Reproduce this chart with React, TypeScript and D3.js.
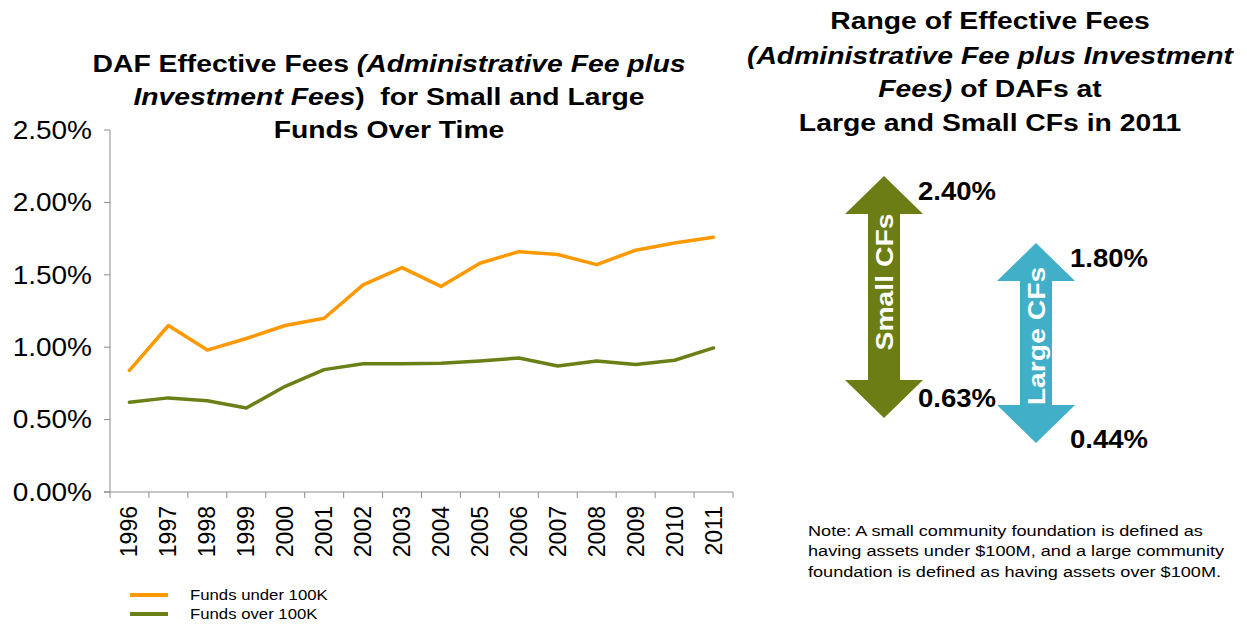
import { useEffect, useRef } from 'react'
import * as d3 from 'd3'

const years = ['1996', '1997', '1998', '1999', '2000', '2001', '2002', '2003', '2004', '2005', '2006', '2007', '2008', '2009', '2010', '2011']
const fundsUnder100K = [0.84, 1.15, 0.98, 1.06, 1.15, 1.2, 1.43, 1.55, 1.42, 1.58, 1.66, 1.64, 1.57, 1.67, 1.72, 1.76]
const fundsOver100K = [0.62, 0.65, 0.63, 0.58, 0.73, 0.845, 0.885, 0.885, 0.89, 0.905, 0.925, 0.87, 0.905, 0.88, 0.91, 0.995]
const yTicks = [0, 0.5, 1, 1.5, 2, 2.5]
const seriesNames = ['Funds under 100K', 'Funds over 100K']
const seriesColors = ['#ff9900', '#6b7f17']

const rangeGroups = ['Small CFs', 'Large CFs']
const rangeHigh = ['2.40%', '1.80%']
const rangeLow = ['0.63%', '0.44%']
const rangeColors = ['#6b7d14', '#41afc7']

const W = 1247
const H = 627
const FONT = "'Liberation Sans', Arial, sans-serif"
// the source font is wider than Liberation Sans, stretch text horizontally
const SX_TITLE = 1.18

export default function App() {
  const svgRef = useRef<SVGSVGElement>(null)

  useEffect(() => {
    document.body.style.margin = '0'
    if (!svgRef.current) return
    const svg = d3.select(svgRef.current)
    svg.selectAll('*').remove()
    svg.attr('font-family', FONT)

    // text placed at (x,y) and stretched by sx along its own direction
    const txt = (x: number, y: number, sx: number, rot = 0) =>
      svg.append('text')
        .attr('transform', `translate(${x},${y})${rot ? ` rotate(${rot})` : ''} scale(${sx},1)`)
        .attr('fill', '#000')

    // ---- left chart ----
    const left = 110, right = 733, top = 130, bottom = 492
    const x = d3.scaleBand().domain(years).range([left, right])
    const y = d3.scaleLinear().domain([0, 2.5]).range([bottom, top])

    const axisColor = '#8c8c8c'
    svg.append('line').attr('x1', left).attr('x2', left).attr('y1', top).attr('y2', bottom)
      .attr('stroke', axisColor).attr('stroke-width', 1)
    svg.append('line').attr('x1', left - 6).attr('x2', right).attr('y1', bottom).attr('y2', bottom)
      .attr('stroke', axisColor).attr('stroke-width', 1)

    yTicks.forEach(t => {
      svg.append('line').attr('x1', left - 6).attr('x2', left).attr('y1', y(t)).attr('y2', y(t))
        .attr('stroke', axisColor)
      txt(92, y(t), 1.12).attr('dy', '0.35em')
        .attr('text-anchor', 'end').attr('font-size', 25)
        .text(d3.format('.2f')(t) + '%')
    })

    const bounds = [...years.map(d => x(d)!), right]
    bounds.forEach(b => {
      svg.append('line').attr('x1', b).attr('x2', b).attr('y1', bottom).attr('y2', bottom + 6)
        .attr('stroke', axisColor)
    })
    years.forEach(d => {
      const cx = x(d)! + x.bandwidth() / 2
      txt(cx + 8, 506, 1, -90)
        .attr('text-anchor', 'end').attr('font-size', 23)
        .text(d)
    })

    const line = d3.line<number>()
      .x((_, i) => x(years[i])! + x.bandwidth() / 2)
      .y(v => y(v))
    ;[fundsOver100K, fundsUnder100K].forEach((s, k) => {
      svg.append('path').attr('d', line(s)!).attr('fill', 'none')
        .attr('stroke', seriesColors[1 - k]).attr('stroke-width', 3.5)
        .attr('stroke-linejoin', 'round').attr('stroke-linecap', 'round')
    })

    // legend
    seriesNames.forEach((n, i) => {
      const ly = 595 + i * 19
      svg.append('line').attr('x1', 130).attr('x2', 168).attr('y1', ly).attr('y2', ly)
        .attr('stroke', seriesColors[i]).attr('stroke-width', 4)
      txt(190, ly, 1.08).attr('dy', '0.35em').attr('font-size', 15.5).text(n)
    })

    // left title
    const t1 = txt(389, 0, SX_TITLE).attr('text-anchor', 'middle').attr('font-size', 24)
      .attr('font-weight', 'bold').style('white-space', 'pre')
    const tl1 = t1.append('tspan').attr('x', 0).attr('y', 72)
    tl1.append('tspan').text('DAF Effective Fees ')
    tl1.append('tspan').attr('font-style', 'italic').text('(Administrative Fee plus')
    const tl2 = t1.append('tspan').attr('x', 0).attr('y', 105)
    tl2.append('tspan').attr('font-style', 'italic').text('Investment Fees')
    tl2.append('tspan').text(')  for Small and Large')
    t1.append('tspan').attr('x', 0).attr('y', 138).text('Funds Over Time')

    // right title
    const t2 = txt(990, 0, SX_TITLE).attr('text-anchor', 'middle').attr('font-size', 24)
      .attr('font-weight', 'bold')
    t2.append('tspan').attr('x', 0).attr('y', 29).text('Range of Effective Fees')
    t2.append('tspan').attr('x', 0).attr('y', 64).attr('font-style', 'italic')
      .text('(Administrative Fee plus Investment')
    const r3 = t2.append('tspan').attr('x', 0).attr('y', 97)
    r3.append('tspan').attr('font-style', 'italic').text('Fees)')
    r3.append('tspan').text(' of DAFs at')
    t2.append('tspan').attr('x', 0).attr('y', 131).text('Large and Small CFs in 2011')

    // range arrows
    const arrows = [
      { cx: 884, top: 176, bottom: 418, textY: 282 },
      { cx: 1036, top: 243, bottom: 443, textY: 336 },
    ]
    rangeGroups.forEach((g, i) => {
      const a = arrows[i]
      const hw = 39, sw = 16, hh = 38
      const pts: [number, number][] = [
        [a.cx, a.top], [a.cx + hw, a.top + hh], [a.cx + sw, a.top + hh],
        [a.cx + sw, a.bottom - hh], [a.cx + hw, a.bottom - hh], [a.cx, a.bottom],
        [a.cx - hw, a.bottom - hh], [a.cx - sw, a.bottom - hh], [a.cx - sw, a.top + hh],
        [a.cx - hw, a.top + hh],
      ]
      svg.append('path').attr('d', 'M' + pts.map(p => p.join(',')).join('L') + 'Z')
        .attr('fill', rangeColors[i])
      txt(a.cx + 9, a.textY, SX_TITLE, -90)
        .attr('text-anchor', 'middle').attr('font-size', 24).attr('font-weight', 'bold')
        .attr('fill', '#fff').text(g)
      txt(a.cx + 34, a.top + 24, 1.1)
        .attr('font-size', 25).attr('font-weight', 'bold').text(rangeHigh[i])
      txt(a.cx + 34, a.bottom - (i === 0 ? 11 : -5), 1.1)
        .attr('font-size', 25).attr('font-weight', 'bold').text(rangeLow[i])
    })

    // note
    const note = txt(808, 0, 1.21).attr('font-size', 15)
    ;['Note: A small community foundation is defined as',
      'having assets under $100M, and a large community',
      'foundation is defined as having assets over $100M.'].forEach((l, i) => {
      note.append('tspan').attr('x', 0).attr('y', 536 + i * 20.5).text(l)
    })
  }, [])

  return <svg ref={svgRef} width={W} height={H} style={{ display: 'block', background: '#fff' }} />
}
